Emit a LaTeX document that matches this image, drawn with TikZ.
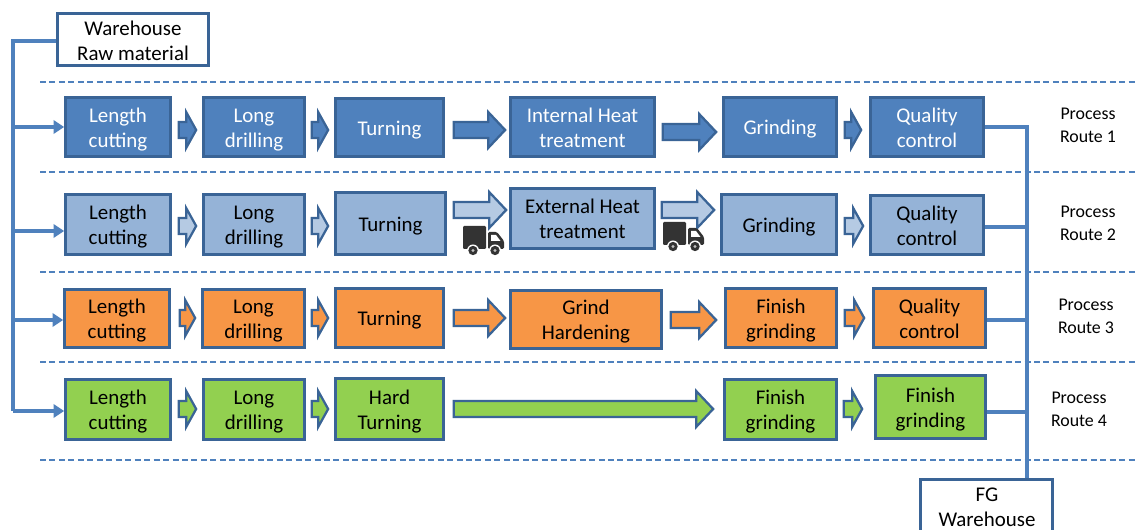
\documentclass[tikz,border=0pt]{standalone}
\usepackage{fontspec}
\setmainfont{Carlito}
\usetikzlibrary{arrows.meta,calc}
\definecolor{linkblue}{HTML}{4F81BD}
\definecolor{edgeblue}{HTML}{3A6496}
\definecolor{rowA}{HTML}{4F81BD}
\definecolor{rowB}{HTML}{95B3D7}
\definecolor{rowC}{HTML}{F79646}
\definecolor{rowD}{HTML}{92D050}
\definecolor{truckgrey}{HTML}{333333}
\tikzset{
  procbox/.style={draw=edgeblue,line width=1.9pt,inner sep=0pt,align=center,font=\fontsize{15.7}{18.75}\selectfont},
  rA/.style={procbox,fill=rowA,text=white},
  rB/.style={procbox,fill=rowB,text=black},
  rC/.style={procbox,fill=rowC,text=black},
  rD/.style={procbox,fill=rowD,text=black},
  plainbox/.style={procbox,fill=white,text=black},
  bus/.style={draw=linkblue,line width=2.6pt},
  feed/.style={bus,-{Triangle[length=8pt,width=10pt]}},
  lane/.style={draw=linkblue,line width=0.8pt,dash pattern=on 4.5pt off 2.6pt},
  routelabel/.style={align=center,inner sep=0pt,font=\fontsize{13.4}{17}\selectfont},
  blockA/.style={draw=edgeblue,line width=1.7pt,fill=rowA},
  blockB/.style={draw=edgeblue,line width=1.7pt,fill=rowB!70!white},
  blockC/.style={draw=edgeblue,line width=1.7pt,fill=rowC},
  blockD/.style={draw=edgeblue,line width=1.7pt,fill=rowD},
}
% name, x1, y1, x2, y2, style, text
\newcommand{\qbox}[7]{\node[#6,minimum width={(#4-#2)*0.75pt-1.4pt},minimum height={(#5-#3)*0.75pt-1.4pt}] (#1) at ({(#2+#4)/2-0.5},{(#3+#5)/2-0.3}) {#7};}
\newcommand{\pbox}[7]{\qbox{#1}{#2}{#3}{#4}{#5}{#6}{\rule{0pt}{15pt}#7\rule[-3.6pt]{0pt}{3.6pt}}}
% from, to, gap from, gap to, y centre, head length, style
\newcommand{\blk}[7]{\draw[#7,line join=miter] let \p1=(#1.east),\p2=(#2.west),
  \n1={\x1+#3*0.75pt},\n2={\x2-#4*0.75pt},\n3={-#5*0.75pt},\n4={\n2-#6*0.75pt} in
  (\n1,{\n3+6pt}) -- (\n4,{\n3+6pt}) -- (\n4,{\n3+13.5pt}) -- (\n2,\n3) -- (\n4,{\n3-13.5pt}) -- (\n4,{\n3-6pt}) -- (\n1,{\n3-6pt}) -- cycle;}
% truck: left x, top y
\newcommand{\truck}[2]{\begin{scope}[shift={(#1,#2)}]
  \fill[truckgrey,rounded corners=0.8pt] (0,0) rectangle (23,23);
  \fill[truckgrey,rounded corners=1pt] (25,6) -- (34,6) -- (41,15) -- (41,23) -- (25,23) -- cycle;
  \fill[white] (28,9) -- (33,9) -- (37.5,15) -- (28,15) -- cycle;
  \foreach \wx in {10,32}{\fill[white] (\wx,24.5) circle[radius=4.5pt];\fill[truckgrey] (\wx,24.5) circle[radius=3.5pt];\fill[white!75!black] (\wx,24.5) circle[radius=1.2pt];}
\end{scope}}
\begin{document}
\begin{tikzpicture}[x=0.75pt,y=-0.75pt]
\clip (0,0) rectangle (1136,530);
\fill[white] (0,0) rectangle (1136,530);
% lanes
\foreach \ly in {82,172,272,362,460}{\draw[lane] (40,\ly) -- (1136,\ly);}
% warehouses
\qbox{rawwh}{57}{13}{210}{67}{plainbox}{\rule{0pt}{12.2pt}Warehouse\\Raw material}
\qbox{fgwh}{920}{479}{1054}{545}{plainbox}{}
\node[align=center,inner sep=0pt,font=\fontsize{15.7}{18.75}\selectfont] (fgtext) at (987,507) {FG\\Warehouse};
% row 1
\pbox{a1}{65}{97}{172}{158}{rA}{Length\\cutting}
\pbox{a2}{203}{97}{306}{158}{rA}{Long\\drilling}
\pbox{a3}{335}{98}{445}{158}{rA}{Turning}
\pbox{a4}{510}{97}{656}{158}{rA}{Internal Heat\\treatment}
\pbox{a5}{723}{97}{838}{158}{rA}{Grinding}
\pbox{a6}{870}{97}{985}{158}{rA}{Quality\\control}
% row 2
\pbox{b1}{65}{194}{172}{256}{rB}{Length\\cutting}
\pbox{b2}{203}{194}{306}{256}{rB}{Long\\drilling}
\pbox{b3}{335}{192}{447}{256}{rB}{Turning}
\pbox{b4}{510}{188}{656}{250}{rB}{External Heat\\treatment}
\pbox{b5}{721}{194}{838}{256}{rB}{Grinding}
\pbox{b6}{870}{195}{985}{256}{rB}{Quality\\control}
% row 3
\pbox{c1}{64}{289}{171}{349}{rC}{Length\\cutting}
\pbox{c2}{202}{289}{306}{349}{rC}{Long\\drilling}
\pbox{c3}{335}{288}{445}{349}{rC}{Turning}
\pbox{c4}{510}{290}{663}{350}{rC}{Grind\\Hardening}
\pbox{c5}{725}{288}{838}{349}{rC}{Finish\\grinding}
\pbox{c6}{873}{288}{987}{349}{rC}{Quality\\control}
% row 4
\pbox{d1}{65}{379}{172}{441}{rD}{Length\\cutting}
\pbox{d2}{203}{379}{306}{441}{rD}{Long\\drilling}
\pbox{d3}{335}{378}{445}{441}{rD}{Hard\\Turning}
\pbox{d5}{724}{379}{838}{441}{rD}{Finish\\grinding}
\pbox{d6}{875}{375}{987}{440}{rD}{Finish\\grinding}
% block arrows row 1
\blk{a1}{a2}{7}{6}{130}{10}{blockA}
\blk{a2}{a3}{6}{6}{130}{10}{blockA}
\blk{a3}{a4}{9}{4}{130}{17}{blockA}
\blk{a4}{a5}{7}{6}{132}{17}{blockA}
\blk{a5}{a6}{7}{8}{130}{10}{blockA}
% block arrows row 2
\blk{b1}{b2}{7}{6}{226}{10}{blockB}
\blk{b2}{b3}{6}{6}{226}{10}{blockB}
\blk{b3}{b4}{7}{3}{210}{17}{blockB}
\blk{b4}{b5}{6}{6}{210}{17}{blockB}
\blk{b5}{b6}{7}{6}{226}{10}{blockB}
% block arrows row 3
\blk{c1}{c2}{9}{6}{318}{10}{blockC}
\blk{c2}{c3}{6}{6}{318}{10}{blockC}
\blk{c3}{c4}{9}{4}{318}{17}{blockC}
\blk{c4}{c5}{8}{8}{320}{17}{blockC}
\blk{c5}{c6}{7}{8}{318}{10}{blockC}
% block arrows row 4
\blk{d1}{d2}{7}{6}{409}{10}{blockD}
\blk{d2}{d3}{6}{6}{409}{10}{blockD}
\blk{d3}{d5}{9}{10}{409}{17}{blockD}
\blk{d5}{d6}{6}{12}{409}{10}{blockD}
% trucks
\truck{463}{226}
\truck{663}{222}
% left bus
\coordinate (lt) at (13,41);
\coordinate (l1) at (13,127);
\coordinate (l2) at (13,231);
\coordinate (l3) at (13,320);
\coordinate (l4) at (13,411);
\draw[bus,line join=miter] (rawwh.west |- lt) -- (lt) -- (l4);
\draw[feed] (l1) -- (a1.west |- l1);
\draw[feed] (l2) -- (b1.west |- l2);
\draw[feed] (l3) -- (c1.west |- l3);
\draw[feed] (l4) -- (d1.west |- l4);
% right bus
\coordinate (r1) at (1027,127);
\coordinate (r2) at (1027,227);
\coordinate (r3) at (1027,320);
\coordinate (r4) at (1027,412);
\draw[bus,line join=miter] (a6.east |- r1) -- (r1) -- (r1 |- fgwh.north);
\draw[bus] (b6.east |- r2) -- (r2);
\draw[bus] (c6.east |- r3) -- (r3);
\draw[bus] (d6.east |- r4) -- (r4);
% labels
\node[routelabel] (p1) at (1088,125.5) {Process\\Route 1};
\node[routelabel] (p2) at (1088,223.5) {Process\\Route 2};
\node[routelabel] (p3) at (1086,316.5) {Process\\Route 3};
\node[routelabel] (p4) at (1079,409.5) {Process\\Route 4};
\end{tikzpicture}
\end{document}
